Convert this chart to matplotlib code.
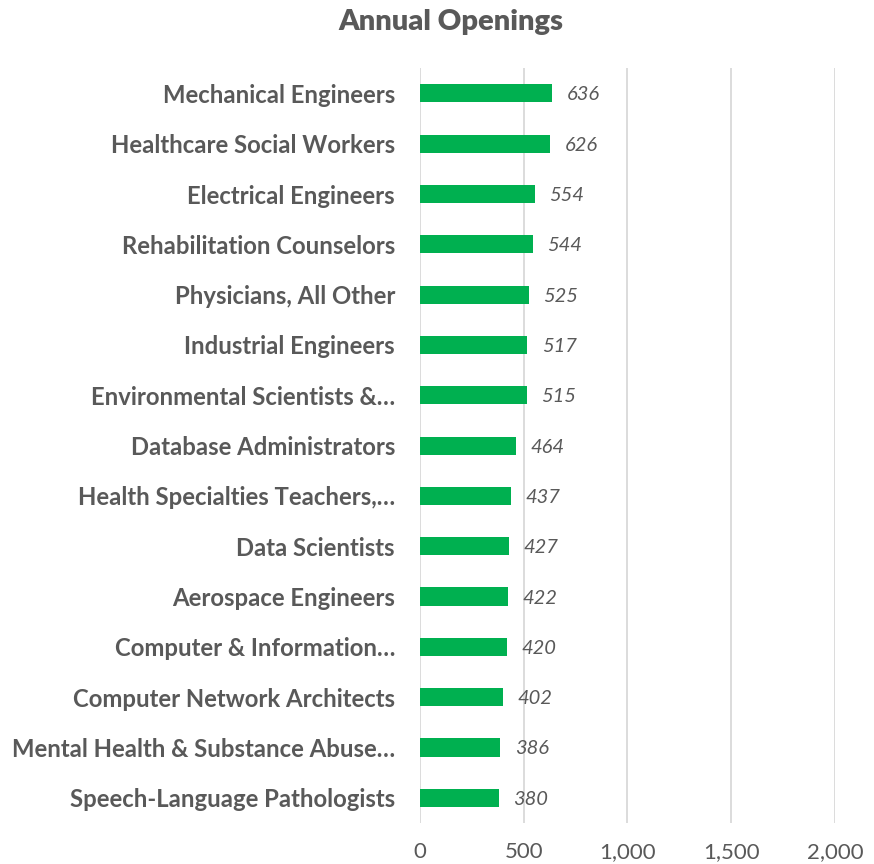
import matplotlib.pyplot as plt

# data (top to bottom)
occupations = ["Mechanical Engineers", "Healthcare Social Workers", "Electrical Engineers",
               "Rehabilitation Counselors", "Physicians, All Other", "Industrial Engineers",
               "Environmental Scientists &\u2026", "Database Administrators",
               "Health Specialties Teachers,\u2026", "Data Scientists", "Aerospace Engineers",
               "Computer & Information\u2026", "Computer Network Architects",
               "Mental Health & Substance Abuse\u2026", "Speech-Language Pathologists"]
openings = [636, 626, 554, 544, 525, 517, 515, 464, 437, 427, 422, 420, 402, 386, 380]
xticks = [0, 500, 1000, 1500, 2000]

plt.rcParams['font.family'] = ['Lato', 'DejaVu Sans']
grey = '#595959'

fig = plt.figure(figsize=(8.74, 8.64), dpi=100)
ax = fig.add_axes([0.4805, 0.0475, 0.4749, 0.8735])

pos = list(range(len(occupations)))[::-1]
ax.barh(pos, openings, height=0.36, color='#00B050', zorder=3)
for y, v in zip(pos, openings):
    ax.text(v + 70, y, str(v), va='center_baseline', ha='left', fontsize=14.5,
            style='italic', color=grey)

ax.set_xlim(0, 2000)
ax.set_ylim(-0.5, len(occupations) - 0.5)
ax.set_xticks(xticks)
ax.set_xticklabels(['{:,}'.format(t) for t in xticks], fontsize=16, color=grey)
ax.set_yticks(pos)
ax.set_yticklabels(occupations, fontsize=17.2, fontweight='bold', color=grey)
ax.tick_params(axis='both', length=0)
ax.tick_params(axis='x', pad=14)
ax.tick_params(axis='y', pad=18)
ax.grid(axis='x', color='#D9D9D9', linewidth=1.3, zorder=0)
for s in ax.spines.values():
    s.set_visible(False)

fig.text(0.516, 0.975, "Annual Openings", ha='center', va='center',
         fontsize=21, fontweight='heavy', color=grey)

fig.savefig('out.png', dpi=100)
